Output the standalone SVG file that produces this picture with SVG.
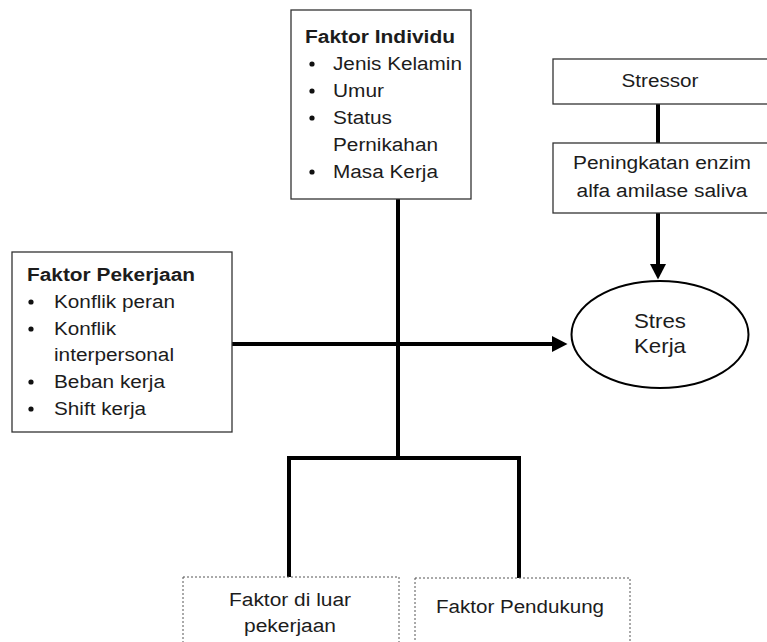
<svg xmlns="http://www.w3.org/2000/svg" width="767" height="642" viewBox="0 0 767 642">
<style>
  text { font-family: "Liberation Sans", Arial, sans-serif; font-size: 18px; fill: #1c1c1c; }
  .b { font-weight: bold; }
  .c { text-anchor: middle; }
  .box { fill: #fff; stroke: #333; stroke-width: 1.3; }
  .dot { fill: #fff; stroke: #555; stroke-width: 1; stroke-dasharray: 2 2; }
  .ln { fill: none; stroke: #000; stroke-width: 4; }
  .bul { fill: #111; }
</style>
<defs>
  <marker id="ah" markerUnits="userSpaceOnUse" markerWidth="16" markerHeight="17" refX="0" refY="8" orient="auto">
    <path d="M0,0 L15.5,8 L0,16 z" fill="#000"/>
  </marker>
</defs>
<rect width="767" height="642" fill="#fff"/>

<g id="connectors">
  <path class="ln" d="M398,199 V458"/>
  <path class="ln" d="M289,577 V458 H519 V578"/>
  <path class="ln" d="M232,344 H552" marker-end="url(#ah)"/>
  <path class="ln" d="M658,104 V143" stroke-width="4.5"/>
  <path class="ln" d="M658,213 V264" marker-end="url(#ah)"/>
</g>

<g id="faktor-individu">
  <rect class="box" x="291" y="10" width="180" height="189"/>
  <text class="b" x="305" y="43" textLength="150" lengthAdjust="spacingAndGlyphs">Faktor Individu</text>
  <circle class="bul" cx="312" cy="64" r="2.6"/>
  <text x="333" y="70" textLength="129" lengthAdjust="spacingAndGlyphs">Jenis Kelamin</text>
  <circle class="bul" cx="312" cy="91" r="2.6"/>
  <text x="333" y="97" textLength="51" lengthAdjust="spacingAndGlyphs">Umur</text>
  <circle class="bul" cx="312" cy="118" r="2.6"/>
  <text x="333" y="124" textLength="59" lengthAdjust="spacingAndGlyphs">Status</text>
  <text x="333" y="151" textLength="105" lengthAdjust="spacingAndGlyphs">Pernikahan</text>
  <circle class="bul" cx="312" cy="172" r="2.6"/>
  <text x="333" y="178" textLength="105" lengthAdjust="spacingAndGlyphs">Masa Kerja</text>
</g>

<g id="faktor-pekerjaan">
  <rect class="box" x="12" y="252" width="220" height="180"/>
  <text class="b" x="27" y="281" textLength="168" lengthAdjust="spacingAndGlyphs">Faktor Pekerjaan</text>
  <circle class="bul" cx="31" cy="302" r="2.6"/>
  <text x="54" y="308" textLength="121" lengthAdjust="spacingAndGlyphs">Konflik peran</text>
  <circle class="bul" cx="31" cy="329" r="2.6"/>
  <text x="54" y="335" textLength="62" lengthAdjust="spacingAndGlyphs">Konflik</text>
  <text x="54" y="361" textLength="120" lengthAdjust="spacingAndGlyphs">interpersonal</text>
  <circle class="bul" cx="31" cy="382" r="2.6"/>
  <text x="54" y="388" textLength="111" lengthAdjust="spacingAndGlyphs">Beban kerja</text>
  <circle class="bul" cx="31" cy="409" r="2.6"/>
  <text x="54" y="415" textLength="92" lengthAdjust="spacingAndGlyphs">Shift kerja</text>
</g>

<g id="stressor">
  <rect class="box" x="553" y="59" width="217" height="45"/>
  <text class="c" x="660" y="87" textLength="77" lengthAdjust="spacingAndGlyphs">Stressor</text>
</g>

<g id="peningkatan-enzim">
  <rect class="box" x="553" y="143" width="217" height="70"/>
  <text class="c" x="662" y="169" textLength="178" lengthAdjust="spacingAndGlyphs">Peningkatan enzim</text>
  <text class="c" x="662" y="197" textLength="171" lengthAdjust="spacingAndGlyphs">alfa amilase saliva</text>
</g>

<g id="stres-kerja">
  <ellipse cx="660" cy="334.5" rx="88.5" ry="53.5" fill="#fff" stroke="#000" stroke-width="2"/>
  <text class="c" x="660" y="328" style="font-size:21px" textLength="52" lengthAdjust="spacingAndGlyphs">Stres</text>
  <text class="c" x="660" y="353" style="font-size:21px" textLength="52" lengthAdjust="spacingAndGlyphs">Kerja</text>
</g>

<g id="faktor-luar">
  <rect class="dot" x="183" y="577" width="216" height="75"/>
  <text class="c" x="290" y="606" textLength="122" lengthAdjust="spacingAndGlyphs">Faktor di luar</text>
  <text class="c" x="290" y="632" textLength="92" lengthAdjust="spacingAndGlyphs">pekerjaan</text>
</g>

<g id="faktor-pendukung">
  <rect class="dot" x="415" y="578" width="215" height="74"/>
  <text class="c" x="520" y="613" textLength="168" lengthAdjust="spacingAndGlyphs">Faktor Pendukung</text>
</g>
</svg>
